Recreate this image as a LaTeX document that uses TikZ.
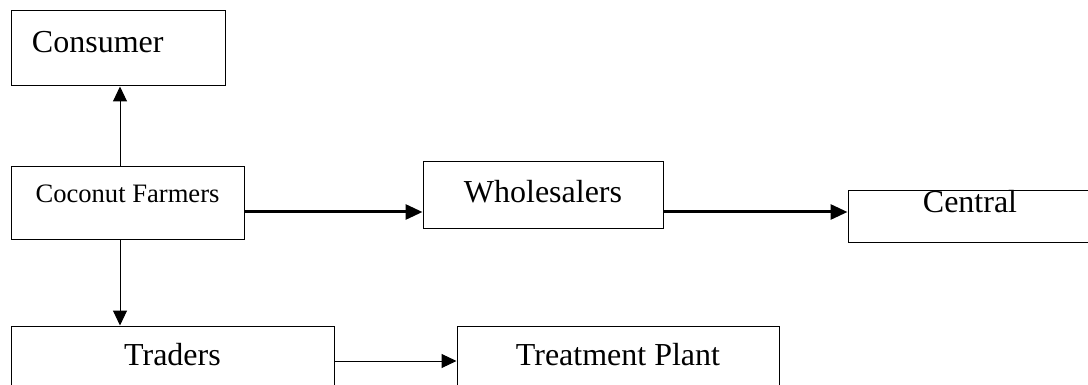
\documentclass[tikz,border=0pt]{standalone}
\usepackage{fontspec}
\setmainfont{Liberation Serif}
\usetikzlibrary{arrows.meta}

\begin{document}
\begin{tikzpicture}[x=0.5pt,y=-0.5pt,
    box/.style={draw,line width=0.5pt,inner sep=0pt,font=\fontsize{16}{19}\selectfont},
    thin arrow/.style={line width=0.5pt,-{Triangle[length=7.5pt,width=7pt]}},
    thick arrow/.style={line width=1.5pt,-{Triangle[length=8.5pt,width=7.5pt]}}]
  \useasboundingbox (0,0) rectangle (1088,385);
  \clip (0,0) rectangle (1088,385);
  % boxes
  \node[box,minimum width=107pt,minimum height=37.5pt,text width=86pt,align=left,
        text height=11pt,text depth=6.5pt] (consumer) at (118,48.5) {Consumer};
  \node[box,minimum width=116.5pt,minimum height=36pt,text height=8pt,text depth=8pt,
        font=\fontsize{13.3}{16}\selectfont] (farmers) at (127.5,203) {Coconut Farmers};
  \node[box,minimum width=120pt,minimum height=33.5pt,text height=11pt,text depth=3.5pt]
        (wholesalers) at (543,195.5) {Wholesalers};
  \node[box,minimum width=122pt,minimum height=23.5pt,text height=11pt,text depth=14.5pt]
        (central) at (970,216.5) {Central};
  \node[box,minimum width=161.5pt,minimum height=37pt,text height=11pt,text depth=9pt]
        (traders) at (172.5,363) {Traders};
  \node[box,minimum width=161pt,minimum height=37pt,text height=11pt,text depth=9pt]
        (plant) at (618,363) {Treatment Plant};
  % arrows
  \coordinate (lane) at (120,0);
  \coordinate (upper row) at (0,212);
  \coordinate (lower row) at (0,361);
  \draw[thin arrow] (farmers.north -| lane) -- (consumer.south -| lane);
  \draw[thin arrow] (farmers.south -| lane) -- (traders.north -| lane);
  \draw[thick arrow] (farmers.east |- upper row) -- (wholesalers.west |- upper row);
  \draw[thick arrow] (wholesalers.east |- upper row) -- (central.west |- upper row);
  \draw[thin arrow] (traders.east |- lower row) -- (plant.west |- lower row);
\end{tikzpicture}
\end{document}
